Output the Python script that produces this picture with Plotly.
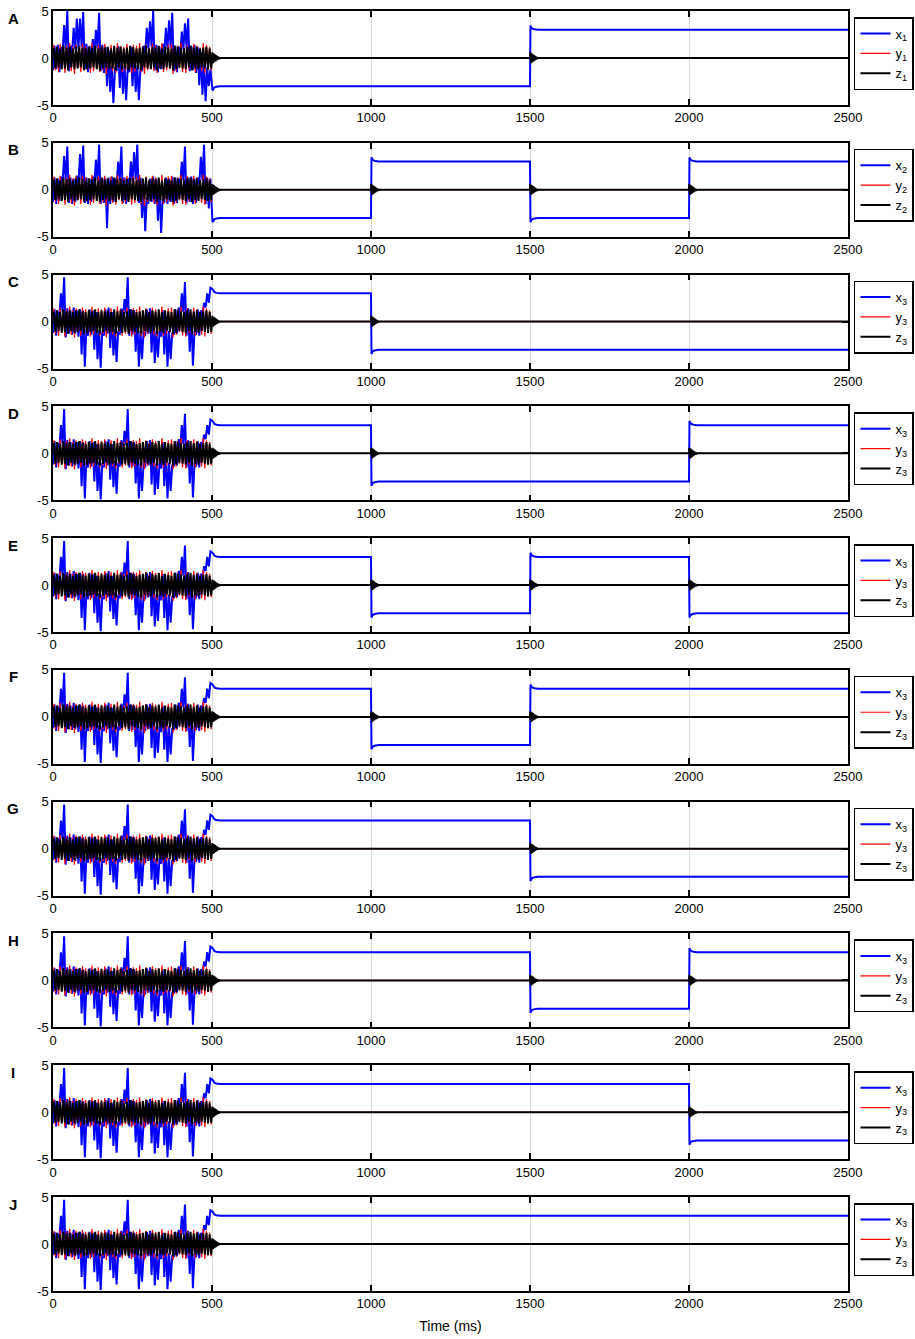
import plotly.graph_objects as go
from plotly.subplots import make_subplots

# chaotic part (0-500 ms): per 10 ms bin, the high and low swing of each signal
BIN_MS = 10

XA_HI = [1.3, 1.4, 1.2, 3.5, 5.0, 1.3, 3.2, 4.2, 4.2, 4.9,
         1.5, 1.3, 2.0, 3.0, 4.8, 1.4, 1.2, 0.8, -0.8, -1.0,
         1.3, 0.6, -0.8, -1.0, 1.2, 0.5, -0.8, -1.0, 1.3, 3.2,
         3.9, 5.0, 1.4, 1.2, 1.5, 3.2, 4.0, 4.8, 1.3, 1.2,
         2.8, 3.7, 4.2, 1.3, 1.4, 1.2, 0.6, -0.6, -1.0, -1.2]
XA_LO = [-1.3, -1.2, -1.5, 0.6, 1.0, -1.4, 0.5, 0.9, 1.0, 1.2,
         -1.2, -1.5, -0.5, 0.5, 1.0, -1.4, -1.6, -3.0, -3.6, -4.8,
         -1.4, -3.2, -3.8, -4.5, -1.5, -3.0, -3.6, -4.5, -1.4, 0.5,
         1.0, 1.2, -1.3, -1.5, -1.2, 0.5, 0.9, 1.1, -1.4, -1.5,
         0.4, 0.9, 1.0, -1.4, -1.3, -1.6, -2.9, -3.9, -4.6, -3.0]

XB_HI = [1.3, 1.2, 1.4, 3.6, 4.6, 1.3, 1.2, 1.5, 3.8, 4.7,
         1.3, 1.2, 1.4, 3.2, 4.8, 1.3, 1.2, 1.3, 1.4, 1.2,
         3.0, 4.6, 1.3, 1.2, 3.0, 4.0, 4.8, 1.3, 0.6, -0.8,
         1.2, 1.4, 1.2, 0.5, -0.9, 1.3, 1.2, 1.4, 1.3, 1.2,
         3.0, 4.6, 1.3, 1.4, 1.2, 1.3, 3.5, 4.8, 1.3, 1.2]
XB_LO = [-1.3, -1.5, -1.2, 0.6, 1.0, -1.4, -1.5, -1.3, 0.6, 1.0,
         -1.4, -1.5, -1.3, 0.5, 1.0, -1.5, -1.4, -4.1, -1.5, -1.3,
         0.5, 1.0, -1.4, -1.5, 0.5, 0.9, 1.1, -1.4, -3.0, -4.4,
         -1.5, -1.3, -1.5, -3.3, -4.6, -1.4, -1.5, -1.3, -1.5, -1.4,
         0.5, 1.0, -1.4, -1.3, -1.5, -1.4, 0.6, 1.0, -1.5, -2.0]

XC_HI = [1.3, 1.1, 3.0, 4.7, 1.4, 1.2, 1.5, 1.2, 1.3, 1.2,
         -0.8, 1.3, 1.2, 1.0, -0.9, -1.0, 1.3, 1.5, 1.0, -0.8,
         -1.0, 1.4, 2.4, 4.7, 1.3, 1.2, 0.5, -1.0, -1.0, 1.3,
         1.4, 0.8, -1.0, -1.0, 1.2, 0.5, -1.0, -1.2, 1.3, 1.5,
         3.0, 4.2, 1.4, 0.8, -1.0, 1.3, 1.2, 2.0, 3.0, 3.6]
XC_LO = [-1.2, -1.5, 0.6, 1.0, -1.7, -1.3, -1.4, -1.3, -1.6, -3.5,
         -4.8, -1.5, -1.4, -3.0, -4.0, -4.9, -1.5, -1.3, -2.8, -3.6,
         -4.3, -1.4, 0.3, 0.9, -1.5, -1.4, -3.2, -4.8, -4.0, -1.5,
         -1.3, -3.3, -4.4, -3.8, -1.6, -3.5, -4.8, -4.0, -1.4, -1.3,
         0.5, 1.0, -1.5, -3.2, -4.7, -1.4, -1.5, 0.6, 1.5, 2.0]

Y_HI = [1.4, 1.2, 1.5, 1.1, 1.3, 1.6, 1.2, 1.4, 1.1, 1.5,
        1.3, 1.2, 1.6, 1.1, 1.4, 1.3, 1.5, 1.2, 1.4, 1.1,
        1.6, 1.3, 1.2, 1.5, 1.1, 1.4, 1.3, 1.6, 1.2, 1.4,
        1.1, 1.5, 1.3, 1.2, 1.6, 1.1, 1.4, 1.5, 1.2, 1.3,
        1.6, 1.1, 1.4, 1.2, 1.5, 1.3, 1.1, 1.6, 1.4, 1.2]
Y_LO = [-1.3, -1.5, -1.1, -1.6, -1.2, -1.4, -1.7, -1.1, -1.5, -1.3,
        -1.2, -1.6, -1.4, -1.1, -1.5, -1.3, -1.7, -1.2, -1.4, -1.6,
        -1.1, -1.5, -1.3, -1.2, -1.6, -1.4, -1.1, -1.5, -1.7, -1.3,
        -1.2, -1.4, -1.6, -1.1, -1.5, -1.3, -1.2, -1.7, -1.4, -1.1,
        -1.5, -1.6, -1.2, -1.3, -1.5, -1.1, -1.4, -1.6, -1.2, -1.3]
Z_HI = [1.1, 1.2, 1.0, 1.3, 1.1, 1.2, 1.0, 1.2, 1.3, 1.1,
        1.0, 1.2, 1.1, 1.3, 1.0, 1.2, 1.1, 1.2, 1.0, 1.3,
        1.1, 1.2, 1.0, 1.1, 1.3, 1.2, 1.0, 1.1, 1.2, 1.3,
        1.0, 1.2, 1.1, 1.3, 1.0, 1.2, 1.1, 1.0, 1.3, 1.2,
        1.1, 1.0, 1.2, 1.3, 1.1, 1.2, 1.0, 1.1, 1.2, 1.0]
Z_LO = [-1.1, -1.0, -1.2, -1.1, -1.3, -1.0, -1.2, -1.1, -1.0, -1.3,
        -1.2, -1.1, -1.0, -1.2, -1.3, -1.1, -1.0, -1.2, -1.1, -1.3,
        -1.0, -1.2, -1.1, -1.3, -1.0, -1.1, -1.2, -1.3, -1.0, -1.1,
        -1.2, -1.0, -1.3, -1.1, -1.2, -1.0, -1.1, -1.3, -1.2, -1.0,
        -1.1, -1.2, -1.0, -1.3, -1.1, -1.2, -1.0, -1.1, -1.2, -1.1]

# switching part (500-2500 ms): level of x in each 500 ms segment
SWITCH_T = [500, 1000, 1500, 2000]
END_T = 2500
PANELS = ['A', 'B', 'C', 'D', 'E', 'F', 'G', 'H', 'I', 'J']
SUBSCRIPTS = ['1', '2', '3', '3', '3', '3', '3', '3', '3', '3']
CHAOS = ['A', 'B', 'C', 'C', 'C', 'C', 'C', 'C', 'C', 'C']
X_LEVELS = [
    [-3, -3, 3, 3],
    [-3, 3, -3, 3],
    [3, -3, -3, -3],
    [3, -3, -3, 3],
    [3, -3, 3, -3],
    [3, -3, 3, 3],
    [3, 3, -3, -3],
    [3, 3, -3, 3],
    [3, 3, 3, -3],
    [3, 3, 3, 3],
]

# transient after each switch (ms after switch, value)
X_TRANS_DT = [1.5, 4, 8, 14, 25]
X_TRANS = [3.45, 3.25, 3.12, 3.05, 3.0]
Z_TRANS_DT = [1, 3, 5, 7, 9, 11, 13, 15, 17, 19, 21, 23, 26]
Z_TRANS = [0.6, -0.55, 0.5, -0.45, 0.4, -0.35, 0.3, -0.25, 0.2, -0.15, 0.1, -0.05, 0.0]
Y_TRANS_DT = [1, 3, 5, 7, 9, 12]
Y_TRANS = [0.3, -0.25, 0.2, -0.12, 0.06, 0.0]

Y_TICKS = [-5, 0, 5]
Y_TICKTEXT = ['-5', '0', '5']
X_TICKS = [0, 500, 1000, 1500, 2000, 2500]

X_CHAOS = {'A': (XA_HI, XA_LO), 'B': (XB_HI, XB_LO), 'C': (XC_HI, XC_LO)}


def zigzag(hi, lo, t_hi, t_lo):
    t, v = [], []
    for i in range(len(hi)):
        pts = sorted([(i * BIN_MS + t_hi, hi[i]), (i * BIN_MS + t_lo, lo[i])])
        for a, b in pts:
            t.append(a)
            v.append(b)
    return t, v


def x_series(pattern, levels):
    hi, lo = X_CHAOS[pattern]
    t, v = zigzag(hi, lo, 5, 0)
    for k, start in enumerate(SWITCH_T):
        lev = levels[k]
        if k == 0 or lev != levels[k - 1]:
            if k > 0:
                t.append(start)
                v.append(levels[k - 1])
            sign = 1 if lev > 0 else -1
            for dt, val in zip(X_TRANS_DT, X_TRANS):
                t.append(start + dt)
                v.append(sign * val)
    t.append(END_T)
    v.append(levels[-1])
    return t, v


def small_series(hi, lo, dts, vals, levels):
    t, v = zigzag(hi, lo, 2.5, 7.5)
    for k, start in enumerate(SWITCH_T):
        if k == 0 or levels[k] != levels[k - 1]:
            t.append(start)
            v.append(0)
            for dt, val in zip(dts, vals):
                t.append(start + dt)
                v.append(val)
    t.append(END_T)
    v.append(0)
    return t, v


PLOT_H = 1280
GAP = 37.8
fig = make_subplots(rows=10, cols=1, vertical_spacing=GAP / PLOT_H)

FONT = 'Liberation Sans, Arial, sans-serif'

for i, name in enumerate(PANELS):
    row = i + 1
    levels = X_LEVELS[i]
    leg = 'legend' if i == 0 else 'legend%d' % row
    sub = SUBSCRIPTS[i]
    xt, xv = x_series(CHAOS[i], levels)
    yt, yv = small_series(Y_HI, Y_LO, Y_TRANS_DT, Y_TRANS, levels)
    zt, zv = small_series(Z_HI, Z_LO, Z_TRANS_DT, Z_TRANS, levels)
    fig.add_trace(go.Scatter(x=xt, y=xv, mode='lines', name='x<sub>%s</sub>' % sub,
                             legendgroup='x%d' % row,
                             line=dict(color='#0000ff', width=2), legend=leg), row=row, col=1)
    fig.add_trace(go.Scatter(x=yt, y=yv, mode='lines', name='y<sub>%s</sub>' % sub,
                             legendgroup='y%d' % row,
                             line=dict(color='#ff0000', width=1.2), legend=leg), row=row, col=1)
    fig.add_trace(go.Scatter(x=zt, y=zv, mode='lines', name='z<sub>%s</sub>' % sub,
                             legendgroup='z%d' % row,
                             line=dict(color='#000000', width=2), legend=leg), row=row, col=1)

    xa = 'xaxis' if row == 1 else 'xaxis%d' % row
    ya = 'yaxis' if row == 1 else 'yaxis%d' % row
    fig.layout[xa].update(range=[0, END_T], tickvals=X_TICKS, showgrid=True,
                          gridcolor='#d9d9d9', gridwidth=1, zeroline=False,
                          showline=True, linecolor='black', linewidth=1.5, mirror='ticks',
                          ticks='inside', ticklen=6, tickwidth=1.5, tickcolor='black')
    fig.layout[ya].update(range=[-5, 5], tickvals=Y_TICKS, ticktext=Y_TICKTEXT,
                          showgrid=False, zeroline=False,
                          showline=True, linecolor='black', linewidth=1.5, mirror='ticks',
                          ticks='inside', ticklen=6, tickwidth=1.5, tickcolor='black')

    top = fig.layout[ya].domain[1]
    fig.layout[leg] = dict(x=1.0075, y=top - 6 / PLOT_H, xanchor='left', yanchor='top',
                           bgcolor='white', bordercolor='black', borderwidth=1.5,
                           font=dict(size=13, color='black', family=FONT),
                           itemwidth=30, tracegroupgap=0)
    fig.add_annotation(text='<b>%s</b>' % name, x=-0.05, y=top - 7 / PLOT_H,
                       xref='paper', yref='paper', showarrow=False,
                       xanchor='center', yanchor='middle',
                       font=dict(size=15, color='black', family=FONT))

fig.layout.xaxis10.title = dict(text='Time (ms)', standoff=11,
                                font=dict(size=14, color='black', family=FONT))

fig.update_layout(
    width=915, height=1339,
    margin=dict(l=53, r=67, t=11, b=48, autoexpand=False),
    plot_bgcolor='white', paper_bgcolor='white',
    font=dict(family=FONT, size=13, color='black'),
)

# drop the page's default 8 px body margin so the figure sits at the window corner
fig.write_html("out.html", config={'displayModeBar': False},
               post_script="document.body.style.margin = '0';")
